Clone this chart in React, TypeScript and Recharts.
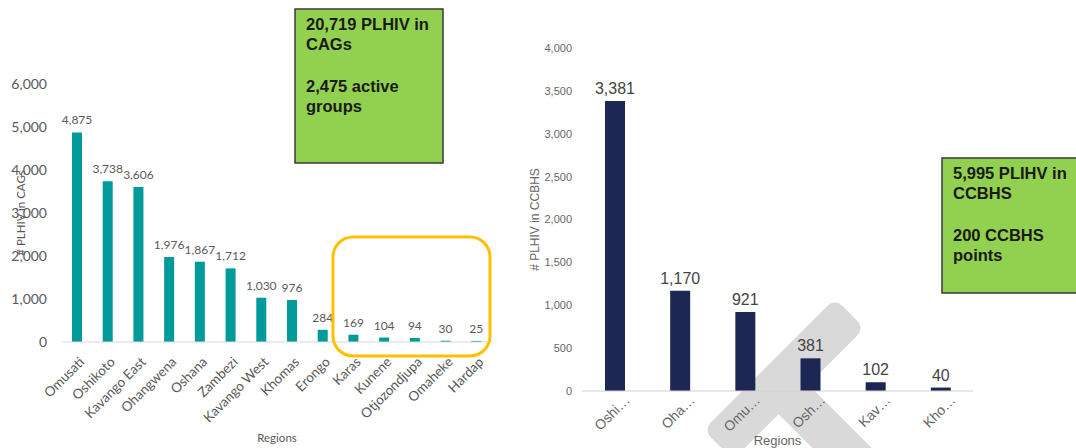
import React from "react";
import { BarChart, Bar, XAxis, YAxis, LabelList, Label } from "recharts";

// left chart: PLHIV in CAGs by region
const cagRegions = [
  "Omusati", "Oshikoto", "Kavango East", "Ohangwena", "Oshana", "Zambezi", "Kavango West",
  "Khomas", "Erongo", "Karas", "Kunene", "Otjozondjupa", "Omaheke", "Hardap"
];
const cagValues = [4875, 3738, 3606, 1976, 1867, 1712, 1030, 976, 284, 169, 104, 94, 30, 25];
const cagTicks = [0, 1000, 2000, 3000, 4000, 5000, 6000];

// right chart: PLHIV in CCBHS (labels are truncated in the source)
const ccbhsRegions = ["Oshi…", "Oha…", "Omu…", "Osh…", "Kav…", "Kho…"];
const ccbhsValues = [3381, 1170, 921, 381, 102, 40];
const ccbhsTicks = [0, 500, 1000, 1500, 2000, 2500, 3000, 3500, 4000];

const cagData = cagRegions.map((r, i) => ({ region: r, value: cagValues[i] }));
const ccbhsData = ccbhsRegions.map((r, i) => ({ region: r, value: ccbhsValues[i] }));

const fmt = (v: any) => Number(v).toLocaleString("en-US");

const LEFT_FONT = "Lato, 'Open Sans', sans-serif";
const RIGHT_FONT = "'Liberation Sans', Arial, sans-serif";

const LeftTick = (props: any) => {
  const { x, y, payload } = props;
  const tx = x + 1;
  return (
    <text x={tx} y={y} dy="0.71em" textAnchor="end" fontSize={13.5} fill="#595959"
      fontFamily={LEFT_FONT} transform={`rotate(-45, ${tx}, ${y})`}>
      {payload.value}
    </text>
  );
};

const RightTick = (props: any) => {
  const { x, y, payload } = props;
  const tx = x + 9;
  return (
    <text x={tx} y={y} dy="0.71em" textAnchor="end" fontSize={14} fill="#666666"
      fontFamily={RIGHT_FONT} transform={`rotate(-45, ${tx}, ${y})`}>
      {payload.value}
    </text>
  );
};

const InfoBox = ({ x, y, w, h, lines }: { x: number; y: number; w: number; h: number; lines: string[] }) => (
  <g>
    <rect x={x} y={y} width={w} height={h} fill="#92D050" stroke="#3a3a3a" strokeWidth={1.5} />
    <text fontFamily={RIGHT_FONT} fontWeight="bold" fontSize={16.5} fill="#1a1a1a">
      {lines.map((l, i) => (
        <tspan key={i} x={x + 11} y={y + 21 + i * 20 + (i >= 2 ? 22 : 0)}>{l}</tspan>
      ))}
    </text>
  </g>
);

export default function App() {
  return (
    <div style={{ position: "absolute", left: 0, top: 0, width: 1076, height: 448, background: "#fff", overflow: "hidden" }}>
      {/* grey diagonal stripes behind the right chart */}
      <svg width={1076} height={448} style={{ position: "absolute", left: 0, top: 0 }}>
        <rect x={784 - 93} y={379 - 21} width={186} height={42} rx={10} fill="#D9D9D9"
          transform="rotate(-45, 784, 379)" />
        <rect x={842 - 78} y={448 - 21} width={156} height={42} rx={10} fill="#D9D9D9"
          transform="rotate(45, 842, 448)" />
      </svg>

      <div style={{ position: "absolute", left: 0, top: 0 }}>
        <BarChart width={520} height={448} data={cagData}
          margin={{ top: 84, right: 28, left: 0, bottom: 0 }} barCategoryGap="0%">
          <XAxis dataKey="region" interval={0} height={106} tickLine={false} tickSize={0} tickMargin={14}
            axisLine={{ stroke: "#D9D9D9" }} tick={<LeftTick />}>
            <Label value="Regions" position="insideBottom" offset={6} fontSize={11.5}
              fill="#595959" fontFamily={LEFT_FONT} />
          </XAxis>
          <YAxis width={62} domain={[0, 6000]} ticks={cagTicks} axisLine={false} tickLine={false}
            tickSize={0} tickMargin={15} tickFormatter={fmt}
            tick={{ fontSize: 14, fill: "#595959", fontFamily: LEFT_FONT }}>
            <Label content={(p: any) => {
              const vb = p.viewBox;
              const cx = vb.x + 20;
              const cy = vb.y + vb.height / 2;
              return (
                <text x={cx} y={cy} textAnchor="middle" dominantBaseline="central" fontSize={11.5}
                  fill="#595959" fontFamily={LEFT_FONT} transform={`rotate(-90, ${cx}, ${cy})`}>
                  # PLHIV in CAGs
                </text>
              );
            }} />
          </YAxis>
          <Bar dataKey="value" fill="#009A9A" barSize={10} isAnimationActive={false}>
            <LabelList dataKey="value" position="top" offset={8} formatter={fmt}
              style={{ fontSize: 12, fill: "#595959", fontFamily: LEFT_FONT }} />
          </Bar>
        </BarChart>
      </div>

      <div style={{ position: "absolute", left: 520, top: 0 }}>
        <BarChart width={480} height={448} data={ccbhsData}
          margin={{ top: 48, right: 27, left: 0, bottom: 0 }}>
          <XAxis dataKey="region" interval={0} height={57} tickLine={false} tickSize={0} tickMargin={3}
            axisLine={{ stroke: "#D0D0D0" }} tick={<RightTick />}>
            <Label value="Regions" position="insideBottom" offset={3} fontSize={13}
              fill="#666666" fontFamily={RIGHT_FONT} />
          </XAxis>
          <YAxis width={62} domain={[0, 4000]} ticks={ccbhsTicks} axisLine={false} tickLine={false}
            tickSize={0} tickMargin={10} tickFormatter={fmt}
            tick={{ fontSize: 11, fill: "#666666", fontFamily: RIGHT_FONT }}>
            <Label content={(p: any) => {
              const vb = p.viewBox;
              const cx = vb.x + 15;
              const cy = vb.y + vb.height / 2;
              return (
                <text x={cx} y={cy} textAnchor="middle" dominantBaseline="central" fontSize={12}
                  fill="#666666" fontFamily={RIGHT_FONT} transform={`rotate(-90, ${cx}, ${cy})`}>
                  # PLHIV in CCBHS
                </text>
              );
            }} />
          </YAxis>
          <Bar dataKey="value" fill="#1C2753" barSize={20} isAnimationActive={false}>
            <LabelList dataKey="value" position="top" offset={7} formatter={fmt}
              style={{ fontSize: 16, fill: "#444444", fontFamily: RIGHT_FONT }} />
          </Bar>
        </BarChart>
      </div>

      {/* annotation boxes */}
      <svg width={1076} height={448} style={{ position: "absolute", left: 0, top: 0, pointerEvents: "none" }}>
        <InfoBox x={295} y={9} w={148} h={154} lines={["20,719 PLHIV in", "CAGs", "2,475 active", "groups"]} />
        <InfoBox x={942} y={158} w={140} h={135} lines={["5,995 PLIHV in", "CCBHS", "200 CCBHS", "points"]} />
        <rect x={333} y={237} width={157} height={119} rx={20} fill="none" stroke="#FFC000" strokeWidth={3} />
      </svg>
    </div>
  );
}
